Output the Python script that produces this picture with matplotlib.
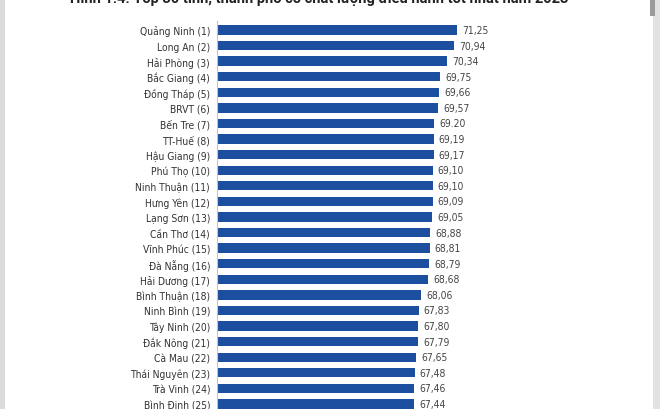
import matplotlib
matplotlib.use("Agg")
import matplotlib.pyplot as plt
from matplotlib.patches import Rectangle
from matplotlib import font_manager as fm

title = "Hình 1.4. Top 30 tỉnh, thành phố có chất lượng điều hành tốt nhất năm 2023"
provinces = ["Quảng Ninh (1)", "Long An (2)", "Hải Phòng (3)", "Bắc Giang (4)", "Đồng Tháp (5)",
             "BRVT (6)", "Bến Tre (7)", "TT-Huế (8)", "Hậu Giang (9)", "Phú Thọ (10)",
             "Ninh Thuận (11)", "Hưng Yên (12)", "Lạng Sơn (13)", "Cần Thơ (14)", "Vĩnh Phúc (15)",
             "Đà Nẵng (16)", "Hải Dương (17)", "Bình Thuận (18)", "Ninh Bình (19)", "Tây Ninh (20)",
             "Đắk Nông (21)", "Cà Mau (22)", "Thái Nguyên (23)", "Trà Vinh (24)", "Bình Định (25)"]
scores = [71.25, 70.94, 70.34, 69.75, 69.66, 69.57, 69.20, 69.19, 69.17, 69.10,
          69.10, 69.09, 69.05, 68.88, 68.81, 68.79, 68.68, 68.06, 67.83, 67.80,
          67.79, 67.65, 67.48, 67.46, 67.44]
labels = ["71,25", "70,94", "70,34", "69,75", "69,66", "69,57", "69.20", "69,19", "69,17", "69,10",
          "69,10", "69,09", "69,05", "68,88", "68,81", "68,79", "68,68", "68,06", "67,83", "67,80",
          "67,79", "67,65", "67,48", "67,46", "67,44"]

# look for a condensed / narrow regular face
cond_file = None
for f in fm.fontManager.ttflist:
    nm = (f.name + " " + f.fname).lower()
    is_cond = ('condensed' in nm or 'narrow' in nm or
               (isinstance(f.stretch, str) and 'condensed' in f.stretch) or
               (isinstance(f.stretch, int) and f.stretch < 500))
    if is_cond and f.style == 'normal' and f.weight in (400, 'normal', 'regular') \
            and 'bold' not in f.fname.lower() and 'light' not in f.fname.lower():
        cond_file = f.fname
        break

if cond_file:
    lab_fp = fm.FontProperties(fname=cond_file, size=7.4)
else:
    lab_fp = fm.FontProperties(family=['Roboto', 'DejaVu Sans'], size=7.0)

W, H = 660, 410
fig = plt.figure(figsize=(6.6, 4.1), dpi=100)
fig.patch.set_facecolor('white')

x0, x1 = 217, 500
step = 15.58
y_first = 31
top_px = y_first - 0.6 * step
bot_px = y_first + 24.6 * step
ax = fig.add_axes([x0 / W, 1 - bot_px / H, (x1 - x0) / W, (bot_px - top_px) / H])

ypos = list(range(len(provinces)))
ax.barh(ypos, scores, left=0, height=0.6, color='#1c4f9f')
ax.set_xlim(50.1, 75)
ax.set_ylim(24.6, -0.6)
ax.set_yticks(ypos)
ax.set_yticklabels(provinces, color='#333333')
for t in ax.get_yticklabels():
    t.set_fontproperties(lab_fp)
ax.tick_params(axis='y', length=0, pad=5)
ax.set_xticks([])
for s in ['top', 'right', 'bottom']:
    ax.spines[s].set_visible(False)
ax.spines['left'].set_color('#b8c8dc')
ax.spines['left'].set_linewidth(0.8)

for y, v, lab in zip(ypos, scores, labels):
    ax.annotate(lab, (v, y), xytext=(3.5, 0), textcoords='offset points',
                va='center', ha='left', color='#444444', fontproperties=lab_fp)

fig.text(319 / W, 1 + 1.5 / H, title, ha='center', va='center', fontsize=10.5,
         fontweight='bold', color='#222222', family=['Roboto', 'DejaVu Sans'])

fig.add_artist(Rectangle((0, 0), 5 / W, 1, transform=fig.transFigure, color='#dcdcdc', lw=0))
fig.add_artist(Rectangle((653 / W, 0), 7 / W, 1, transform=fig.transFigure, color='#e2e2e2', lw=0))
fig.add_artist(Rectangle((650 / W, 1 - 17 / H), 5 / W, 17 / H, transform=fig.transFigure, color='#9a9a9a', lw=0))

fig.savefig('out.png', dpi=100)
